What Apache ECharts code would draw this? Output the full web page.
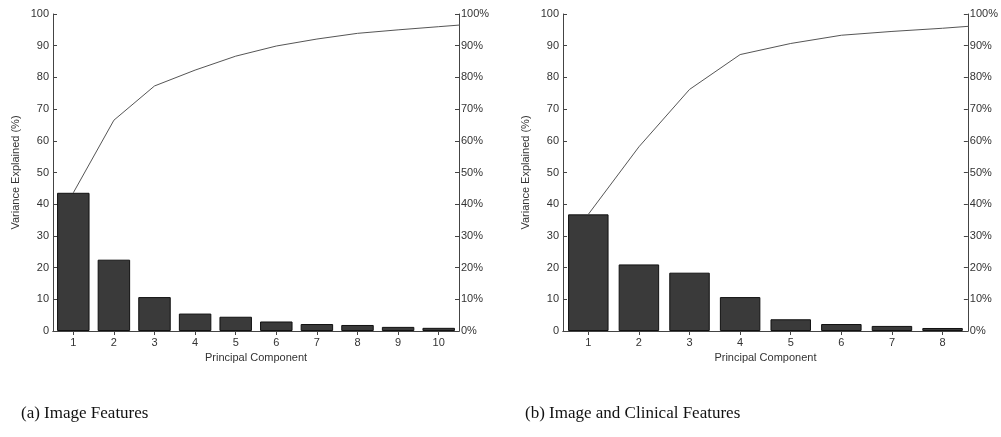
<!DOCTYPE html>
<html>
<head>
<meta charset="utf-8">
<script src="https://cdn.jsdelivr.net/npm/echarts@6/dist/echarts.min.js"></script>
<style>
html,body{margin:0;padding:0;background:#fff;}
#chart{width:1001px;height:437px;}
</style>
</head>
<body>
<div id="chart"></div>
<script>
// ---- Data ----
var categoriesA = ['1','2','3','4','5','6','7','8','9','10'];
var varianceA = [43.6, 22.5, 10.7, 5.5, 4.5, 3.0, 2.2, 1.9, 1.3, 1.0];
// cumulative curve (last point lies past the axis edge and is clipped)
var cumulativeA = [43.6, 66.5, 77.3, 82.3, 86.7, 89.9, 92.1, 93.9, 95.0, 96.0, 97.0];

var categoriesB = ['1','2','3','4','5','6','7','8'];
var varianceB = [36.8, 21.0, 18.4, 10.7, 3.7, 2.2, 1.6, 0.95];
var cumulativeB = [36.8, 58.1, 76.2, 87.2, 90.7, 93.3, 94.5, 95.5, 96.7];

var leftTicks = [0,10,20,30,40,50,60,70,80,90,100];
var rightTickSuffix = '%';

var captionA = '(a) Image Features';
var captionB = '(b) Image and Clinical Features';
var xName = 'Principal Component';
var yName = 'Variance Explained (%)';

// ---- Build ----
var axisCol = '#444';
var textCol = '#333';
var tickFont = {color: textCol, fontSize: 11, fontFamily: 'Liberation Sans, Arial, sans-serif'};

function pairs(arr){ return arr.map(function(v,i){ return [i+1, v]; }); }

var grids = [
  {left: 53, right: 542, top: 14, bottom: 106},
  {left: 563, right: 33, top: 14, bottom: 106}
];

var xAxes = [], yAxes = [], series = [];
[[categoriesA, varianceA, cumulativeA],[categoriesB, varianceB, cumulativeB]].forEach(function(set, g){
  var cats = set[0];
  // bottom category axis
  xAxes.push({
    type: 'category', gridIndex: g, data: cats, position: 'bottom',
    boundaryGap: true,
    axisLine: {lineStyle: {color: axisCol, width: 1}},
    axisTick: {show: false},
    axisLabel: Object.assign({margin: 6}, tickFont),
    name: xName, nameLocation: 'middle', nameGap: 21,
    nameTextStyle: tickFont
  });
  // top box axis with inward ticks
  xAxes.push({
    type: 'category', gridIndex: g, data: cats, position: 'top',
    boundaryGap: true,
    axisLine: {lineStyle: {color: axisCol, width: 1}},
    axisTick: {show: true, inside: true, alignWithLabel: true, length: 4, lineStyle: {color: axisCol}},
    axisLabel: {show: false}
  });
  // hidden value axis for the cumulative line
  xAxes.push({
    type: 'value', gridIndex: g, min: 0.5, max: cats.length + 0.5,
    show: false
  });
  yAxes.push({
    type: 'value', gridIndex: g, min: 0, max: 100, interval: 10, position: 'left',
    axisLine: {show: true, lineStyle: {color: axisCol, width: 1}},
    axisTick: {show: true, inside: true, length: 4, lineStyle: {color: axisCol}},
    axisLabel: Object.assign({margin: 4}, tickFont),
    splitLine: {show: false},
    name: yName, nameLocation: 'middle', nameGap: 32,
    nameTextStyle: tickFont
  });
  yAxes.push({
    type: 'value', gridIndex: g, min: 0, max: 100, interval: 10, position: 'right',
    axisLine: {show: true, lineStyle: {color: axisCol, width: 1}},
    axisTick: {show: true, inside: true, length: 4, lineStyle: {color: axisCol}},
    axisLabel: Object.assign({margin: 2, formatter: '{value}' + rightTickSuffix}, tickFont),
    splitLine: {show: false}
  });
  series.push({
    type: 'bar', xAxisIndex: g*3, yAxisIndex: g*2, data: set[1],
    barCategoryGap: '20%',
    itemStyle: {color: '#3a3a3a', borderColor: '#111', borderWidth: 1},
    silent: true, animation: false
  });
  series.push({
    type: 'line', xAxisIndex: g*3 + 2, yAxisIndex: g*2 + 1, data: pairs(set[2]),
    symbol: 'none', clip: true,
    lineStyle: {color: '#555', width: 1},
    silent: true, animation: false
  });
});

var chart = echarts.init(document.getElementById('chart'), null, {renderer: 'canvas'});
chart.setOption({
  backgroundColor: '#fff',
  animation: false,
  title: [
    {text: captionA, left: 16, top: 400, textStyle: {fontFamily: 'Liberation Serif, DejaVu Serif, serif', fontWeight: 'normal', fontSize: 17, color: '#111'}},
    {text: captionB, left: 520, top: 400, textStyle: {fontFamily: 'Liberation Serif, DejaVu Serif, serif', fontWeight: 'normal', fontSize: 17, color: '#111'}}
  ],
  grid: grids,
  xAxis: xAxes,
  yAxis: yAxes,
  series: series
});
</script>
</body>
</html>
